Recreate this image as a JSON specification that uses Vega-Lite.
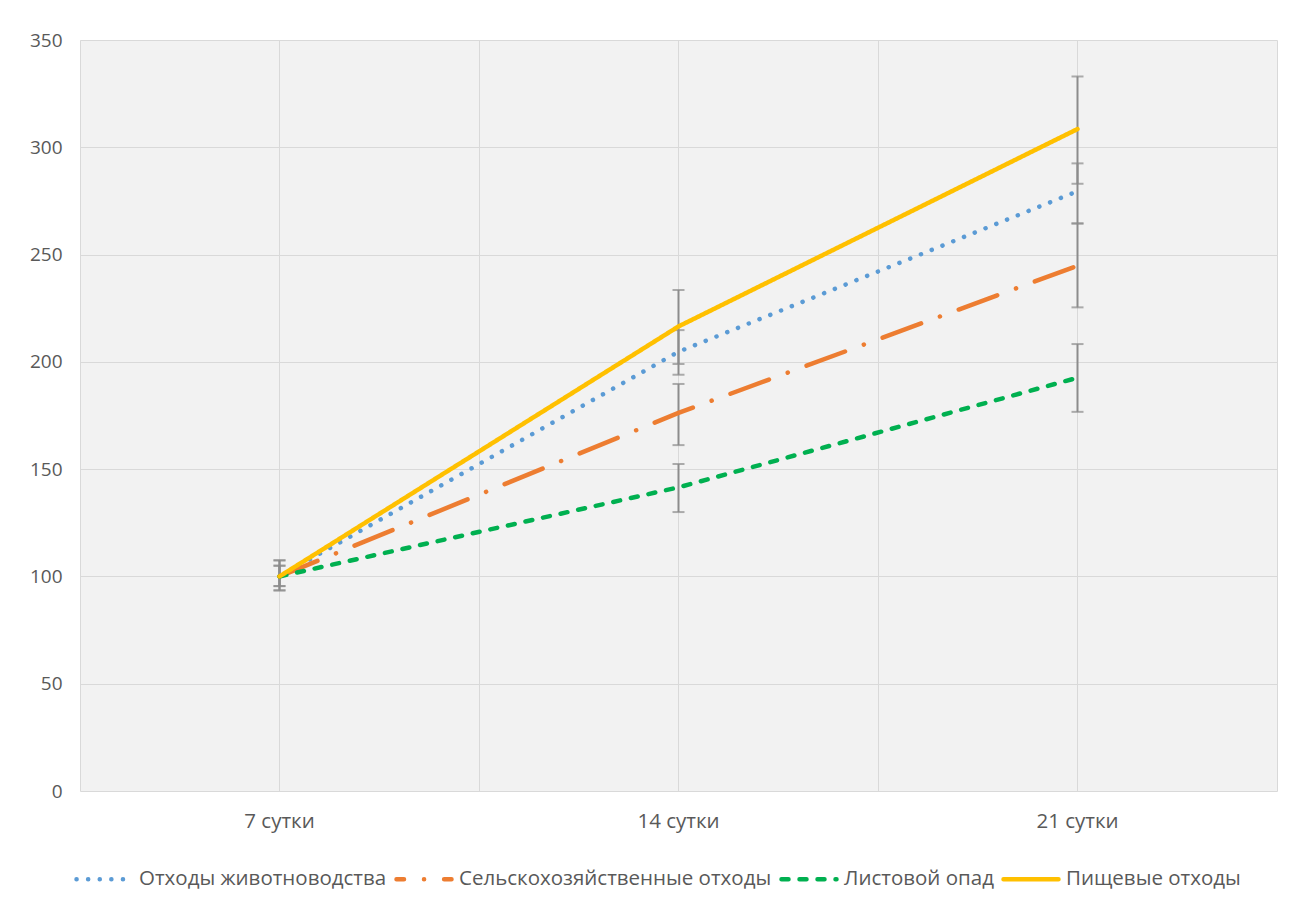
{
  "$schema": "https://vega.github.io/schema/vega-lite/v6.json",
  "width": 1197,
  "height": 751,
  "autosize": {"type": "none"},
  "padding": {"left": 80, "top": 40, "right": 20, "bottom": 118},
  "background": "white",
  "config": {
    "font": "Open Sans",
    "view": {"fill": "#f2f2f2", "stroke": null},
    "axis": {
      "labelFont": "Open Sans",
      "labelFontSize": 19,
      "labelColor": "#595959",
      "gridColor": "#d9d9d9",
      "gridWidth": 1,
      "ticks": false,
      "domain": false,
      "title": null
    }
  },
  "data": {
    "values": [
      {"day": "7 сутки", "series": "Отходы животноводства", "value": 100, "lo": 95.5, "hi": 105},
      {"day": "14 сутки", "series": "Отходы животноводства", "value": 204.7, "lo": 194, "hi": 214.8},
      {"day": "21 сутки", "series": "Отходы животноводства", "value": 279.5, "lo": 264.5, "hi": 292.5},
      {"day": "7 сутки", "series": "Сельскохозяйственные отходы", "value": 100, "lo": 95.5, "hi": 105},
      {"day": "14 сутки", "series": "Сельскохозяйственные отходы", "value": 176.2, "lo": 161.2, "hi": 189.7},
      {"day": "21 сутки", "series": "Сельскохозяйственные отходы", "value": 244.8, "lo": 225.4, "hi": 264.5},
      {"day": "7 сутки", "series": "Листовой опад", "value": 100, "lo": 93.5, "hi": 107.5},
      {"day": "14 сутки", "series": "Листовой опад", "value": 141.5, "lo": 130, "hi": 152.4},
      {"day": "21 сутки", "series": "Листовой опад", "value": 192.6, "lo": 176.7, "hi": 208.3},
      {"day": "7 сутки", "series": "Пищевые отходы", "value": 100, "lo": 93.5, "hi": 107.5},
      {"day": "14 сутки", "series": "Пищевые отходы", "value": 216.5, "lo": 199, "hi": 233.5},
      {"day": "21 сутки", "series": "Пищевые отходы", "value": 308.5, "lo": 283, "hi": 333}
    ]
  },
  "resolve": {"axis": {"x": "independent"}},
  "layer": [
    {
      "mark": {"type": "rule", "color": "#8c8c8c", "strokeWidth": 2},
      "encoding": {
        "x": {"field": "day", "type": "ordinal", "sort": ["7 сутки", "14 сутки", "21 сутки"], "bandPosition": 0.5,
              "scale": {"type": "band", "paddingInner": 0, "paddingOuter": 0},
              "axis": {"orient": "bottom", "grid": true, "tickBand": "extent", "labels": false}},
        "y": {"field": "lo", "type": "quantitative", "scale": {"domain": [0, 350], "nice": false},
              "axis": {"values": [0, 50, 100, 150, 200, 250, 300, 350], "labelPadding": 18, "grid": true}},
        "y2": {"field": "hi"}
      }
    },
    {
      "mark": {"type": "tick", "color": "#8c8c8c", "thickness": 2, "size": 12},
      "encoding": {
        "x": {"field": "day", "type": "ordinal", "sort": ["7 сутки", "14 сутки", "21 сутки"], "bandPosition": 0.5, "axis": null},
        "y": {"field": "lo", "type": "quantitative", "scale": {"domain": [0, 350], "nice": false},
              "axis": {"values": [0, 50, 100, 150, 200, 250, 300, 350], "labelPadding": 18, "grid": true}}
      }
    },
    {
      "mark": {"type": "tick", "color": "#8c8c8c", "thickness": 2, "size": 12},
      "encoding": {
        "x": {"field": "day", "type": "ordinal", "sort": ["7 сутки", "14 сутки", "21 сутки"], "bandPosition": 0.5, "axis": null},
        "y": {"field": "hi", "type": "quantitative", "scale": {"domain": [0, 350], "nice": false},
              "axis": {"values": [0, 50, 100, 150, 200, 250, 300, 350], "labelPadding": 18, "grid": true}}
      }
    },
    {
      "mark": {"type": "line", "strokeCap": "round", "strokeJoin": "round", "strokeWidth": 4.5},
      "encoding": {
        "x": {"field": "day", "type": "ordinal", "sort": ["7 сутки", "14 сутки", "21 сутки"], "bandPosition": 0.5,
              "axis": {"orient": "bottom", "grid": true, "labelPadding": 20, "labelAngle": 0, "labelFontSize": 20.5}},
        "y": {"field": "value", "type": "quantitative", "scale": {"domain": [0, 350], "nice": false},
              "axis": {"values": [0, 50, 100, 150, 200, 250, 300, 350], "labelPadding": 18, "grid": true}},
        "color": {
          "field": "series", "type": "nominal",
          "scale": {
            "domain": ["Отходы животноводства", "Сельскохозяйственные отходы", "Листовой опад", "Пищевые отходы"],
            "range": ["#5B9BD5", "#ED7D31", "#00B050", "#FFC000"]
          },
          "legend": {
            "orient": "none", "legendX": -6, "legendY": 809, "direction": "horizontal", "title": null,
            "symbolType": "stroke", "symbolSize": 3025, "symbolStrokeWidth": 4.5,
            "labelFontSize": 20.5, "labelColor": "#595959", "labelLimit": 500, "labelFont": "Open Sans",
            "columnPadding": 0, "labelOffset": 5,
            "encode": {"symbols": {"update": {
              "strokeCap": {"value": "round"},
              "strokeDashOffset": {"signal": "datum.value === 'Сельскохозяйственные отходы' ? 33.5 : 0"}
            }}}
          }
        },
        "strokeDash": {
          "field": "series", "type": "nominal",
          "scale": {
            "domain": ["Отходы животноводства", "Сельскохозяйственные отходы", "Листовой опад", "Пищевые отходы"],
            "range": [[0.1, 11.5], [41, 20, 0.1, 20], [7, 11], [1, 0]]
          },
          "legend": null
        }
      }
    }
  ]
}
